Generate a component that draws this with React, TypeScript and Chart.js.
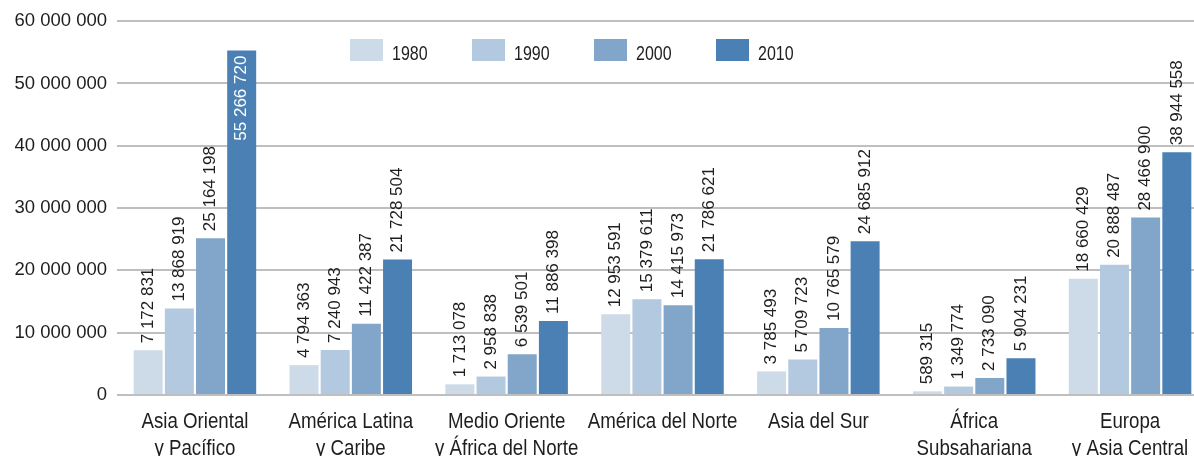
import React, { useEffect, useRef } from 'react';
import { Chart, registerables } from 'chart.js';

Chart.register(...registerables);

const categories: string[][] = [
  ['Asia Oriental', 'y Pacífico'],
  ['América Latina', 'y Caribe'],
  ['Medio Oriente', 'y África del Norte'],
  ['América del Norte'],
  ['Asia del Sur'],
  ['África', 'Subsahariana'],
  ['Europa', 'y Asia Central'],
];

const years = ['1980', '1990', '2000', '2010'];

const values1980 = [7172831, 4794363, 1713078, 12953591, 3785493, 589315, 18660429];
const values1990 = [13868919, 7240943, 2958838, 15379611, 5709723, 1349774, 20888487];
const values2000 = [25164198, 11422387, 6539501, 14415973, 10765579, 2733090, 28466900];
const values2010 = [55266720, 21728504, 11886398, 21786621, 24685912, 5904231, 38944558];

const seriesValues = [values1980, values1990, values2000, values2010];
const colors = ['#cddbe9', '#b3c9df', '#82a6ca', '#4a80b4'];

const yMax = 60000000;
const yStep = 10000000;

const fmt = (v: number) => String(Math.round(v)).replace(/\B(?=(\d{3})+(?!\d))/g, ' ');

const FONT = '"Liberation Sans", Arial, sans-serif';
const TEXT_COLOR = '#1e1e1e';

const barLabelPlugin = {
  id: 'barLabels',
  afterDatasetsDraw(chart: any) {
    const ctx = chart.ctx;
    const top = chart.chartArea.top;
    ctx.save();
    ctx.font = `17px ${FONT}`;
    ctx.textBaseline = 'middle';
    chart.data.datasets.forEach((ds: any, di: number) => {
      const meta = chart.getDatasetMeta(di);
      meta.data.forEach((el: any, i: number) => {
        const text = fmt(ds.data[i]);
        const w = ctx.measureText(text).width;
        ctx.save();
        ctx.translate(el.x, el.y);
        ctx.rotate(-Math.PI / 2);
        if (el.y - 7 - w < top - 20) {
          ctx.fillStyle = '#ffffff';
          ctx.textAlign = 'right';
          ctx.fillText(text, -5, 0);
        } else {
          ctx.fillStyle = TEXT_COLOR;
          ctx.textAlign = 'left';
          ctx.fillText(text, 7, 0);
        }
        ctx.restore();
      });
    });
    ctx.restore();
  },
};

const xLabelPlugin = {
  id: 'xLabels',
  afterDraw(chart: any) {
    const ctx = chart.ctx;
    const xs = chart.scales.x;
    const base = chart.chartArea.bottom + 33;
    ctx.save();
    ctx.font = `22px ${FONT}`;
    ctx.fillStyle = TEXT_COLOR;
    ctx.textAlign = 'center';
    ctx.textBaseline = 'alphabetic';
    (chart.data.labels as string[][]).forEach((lines, i) => {
      const x = xs.getPixelForTick(i);
      lines.forEach((ln, j) => {
        ctx.save();
        ctx.translate(x, base + j * 27);
        ctx.scale(0.85, 1);
        ctx.fillText(ln, 0, 0);
        ctx.restore();
      });
    });
    ctx.restore();
  },
};

const legendPlugin = {
  id: 'customLegend',
  afterDraw(chart: any) {
    const ctx = chart.ctx;
    ctx.save();
    const startX = 350;
    const step = 122;
    const boxY = 39;
    const boxW = 33;
    const boxH = 22;
    ctx.font = `19.5px ${FONT}`;
    ctx.textBaseline = 'alphabetic';
    ctx.textAlign = 'left';
    chart.data.datasets.forEach((ds: any, i: number) => {
      const x = startX + i * step;
      ctx.fillStyle = ds.backgroundColor;
      ctx.fillRect(x, boxY, boxW, boxH);
      ctx.fillStyle = TEXT_COLOR;
      ctx.save();
      ctx.translate(x + boxW + 9, boxY + boxH - 1);
      ctx.scale(0.82, 1);
      ctx.fillText(ds.label, 0, 0);
      ctx.restore();
    });
    ctx.restore();
  },
};

export default function App() {
  const ref = useRef<HTMLCanvasElement | null>(null);

  useEffect(() => {
    if (!ref.current) return;
    const chart = new Chart(ref.current, {
      type: 'bar',
      data: {
        labels: categories,
        datasets: years.map((y, i) => ({
          label: y,
          data: seriesValues[i],
          backgroundColor: colors[i],
          borderWidth: 0,
          barPercentage: 0.93,
          categoryPercentage: 0.8,
        })),
      },
      options: {
        responsive: false,
        animation: false,
        devicePixelRatio: 1,
        layout: { padding: { top: 21, right: 0, left: 0, bottom: 0 } },
        plugins: {
          legend: { display: false },
          tooltip: { enabled: false },
        },
        scales: {
          x: {
            grid: { display: false },
            border: { display: false },
            ticks: { display: false, autoSkip: false },
            afterFit(scale: any) {
              scale.height = 61;
            },
          },
          y: {
            min: 0,
            max: yMax,
            grid: { color: '#bfbfbf', lineWidth: 2, drawTicks: false },
            border: { display: false },
            ticks: {
              stepSize: yStep,
              color: TEXT_COLOR,
              padding: 10,
              font: { family: FONT, size: 18.5 },
              callback: (v: any) => fmt(Number(v)),
            },
            afterFit(scale: any) {
              scale.width = 117;
            },
          },
        },
      } as any,
      plugins: [barLabelPlugin, xLabelPlugin, legendPlugin],
    });
    return () => chart.destroy();
  }, []);

  return (
    <div
      style={{
        position: 'fixed',
        left: 0,
        top: 0,
        width: 1194,
        height: 456,
        overflow: 'hidden',
        background: '#fff',
      }}
    >
      <canvas ref={ref} width={1208} height={456} style={{ width: 1208, height: 456, display: 'block' }} />
    </div>
  );
}
